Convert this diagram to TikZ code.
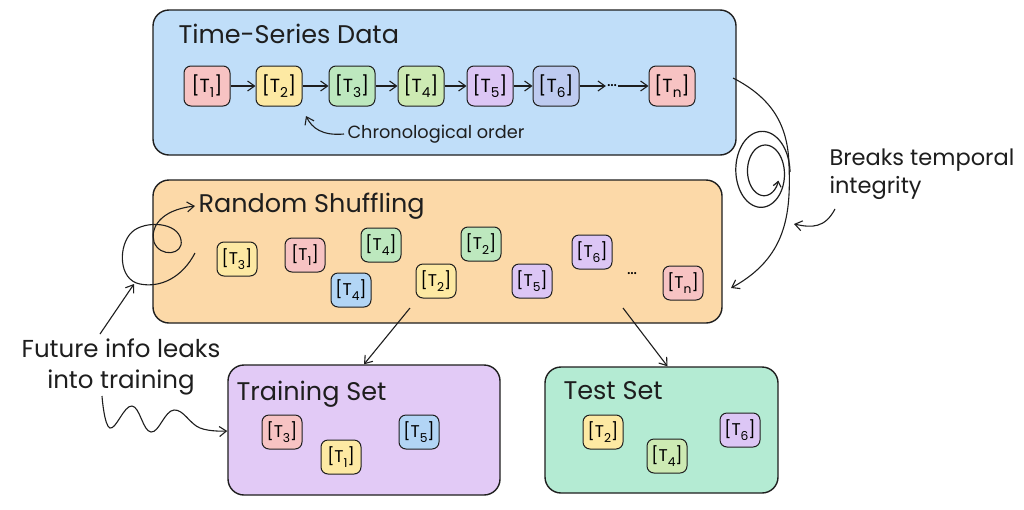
\documentclass[tikz,border=0pt]{standalone}
\usepackage{fontspec}
\usepackage{graphicx}
\setmainfont{Poppins}
\usetikzlibrary{arrows.meta}
\definecolor{tsblue}{HTML}{C0DEF9}
\definecolor{shorange}{HTML}{FCD9A8}
\definecolor{trpurple}{HTML}{E2CAF6}
\definecolor{tegreen}{HTML}{B4EBD3}
\definecolor{tred}{HTML}{F7C3C3}
\definecolor{tyellow}{HTML}{FDE9A3}
\definecolor{tgreenA}{HTML}{BDE8BE}
\definecolor{tgreenB}{HTML}{CDEAB3}
\definecolor{tpurple}{HTML}{DCC6F5}
\definecolor{tslate}{HTML}{BECBF0}
\definecolor{tblue}{HTML}{B2D5F5}
\definecolor{inkc}{HTML}{1E1E1E}
\newcommand{\tl}[1]{[T\raisebox{-0.28em}{\scalebox{0.72}{#1}}]}
\begin{document}
\begin{tikzpicture}[x=1pt,y=-1pt,
  panel/.style={draw=inkc, line width=1.4pt, rounded corners=16pt},
  ptitle/.style={anchor=west, font=\fontsize{25.5}{30}\selectfont, text=inkc},
  tile/.style={draw=inkc, line width=1pt, rounded corners=7pt, minimum width=46pt, minimum height=40pt, inner sep=0pt, font=\fontsize{19}{20}\selectfont},
  stile/.style={draw=inkc, line width=1pt, rounded corners=7pt, minimum width=40pt, minimum height=34pt, inner sep=0pt, font=\fontsize{17}{18}\selectfont},
  arr/.style={draw=inkc, line width=1.1pt, -{Straight Barb[length=7pt,width=10pt]}},
  note/.style={font=\fontsize{24.5}{31}\selectfont, text=inkc}
]
\useasboundingbox[fill=white] (0,0) rectangle (1024,509);

% panels
\node[panel, fill=tsblue, minimum width=583pt, minimum height=145pt] (ts) at (444.5,82.5) {};
\node[panel, fill=shorange, minimum width=569pt, minimum height=143pt] (sh) at (437.5,251.5) {};
\node[panel, fill=trpurple, minimum width=272pt, minimum height=130pt] (tr) at (364,430) {};
\node[panel, fill=tegreen, minimum width=233pt, minimum height=126pt] (te) at (661.5,430) {};

\node[ptitle] (tstitle) at (175,34) {Time-Series Data};
\node[ptitle] (shtitle) at (195,206) {Random Shuffling};
\node[ptitle] (trtitle) at (233,394) {Training Set};
\node[ptitle] (tetitle) at (560,391) {Test Set};

% top sequence
\node[tile, fill=tred] (a1) at (207,86) {\tl{1}};
\node[tile, fill=tyellow] (a2) at (279,86) {\tl{2}};
\node[tile, fill=tgreenA] (a3) at (352,86) {\tl{3}};
\node[tile, fill=tgreenB] (a4) at (421,86) {\tl{4}};
\node[tile, fill=tpurple] (a5) at (490,86) {\tl{5}};
\node[tile, fill=tslate] (a6) at (556,86) {\tl{6}};
\node[font=\fontsize{17}{18}\selectfont, inner sep=1pt] (adots) at (612,86) {\dots};
\node[tile, fill=tred] (an) at (672,86) {\tl{n}};
\draw[arr] (a1) -- (a2);
\draw[arr] (a2) -- (a3);
\draw[arr] (a3) -- (a4);
\draw[arr] (a4) -- (a5);
\draw[arr] (a5) -- (a6);
\draw[arr] (a6) -- (adots);
\draw[arr] (adots) -- (an);

\node[anchor=west, font=\fontsize{17.7}{20}\selectfont, text=inkc] (chrono) at (344,134) {Chronological order};
\draw[arr] (chrono.west) .. controls (322,136) and (312,128) .. (306,116);

% shuffled
\node[stile, fill=tyellow] (b1) at (237,259) {\tl{3}};
\node[stile, fill=tred] (b2) at (305,255) {\tl{1}};
\node[stile, fill=tgreenA] (b3) at (381,245) {\tl{4}};
\node[stile, fill=tblue] (b4) at (351,290) {\tl{4}};
\node[stile, fill=tyellow] (b5) at (436,281) {\tl{2}};
\node[stile, fill=tgreenA] (b6) at (481,244) {\tl{2}};
\node[stile, fill=tpurple] (b7) at (532,281) {\tl{5}};
\node[stile, fill=tpurple] (b8) at (592,252) {\tl{6}};
\node[font=\fontsize{17}{18}\selectfont] (bdots) at (632,274) {\dots};
\node[stile, fill=tred] (bn) at (683,283) {\tl{n}};

% training
\node[stile, fill=tred] (c1) at (282,432) {\tl{3}};
\node[stile, fill=tyellow] (c2) at (341,457) {\tl{1}};
\node[stile, fill=tblue] (c3) at (419,432) {\tl{5}};
% test
\node[stile, fill=tyellow] (d1) at (603,432) {\tl{2}};
\node[stile, fill=tgreenB] (d2) at (667,456) {\tl{4}};
\node[stile, fill=tpurple] (d3) at (740,430) {\tl{6}};

% split arrows
\coordinate (sa) at (410,308);
\coordinate (sb) at (623,308);
\draw[arr] (sa) -- (tr.north);
\draw[arr] (sb) -- ([xshift=6pt]te.north);

% right spiral arrow
\coordinate (rs) at (733,78);
\coordinate (re) at (731,288);
\draw[arr] (rs) .. controls (772,98) and (788,125) .. (789,165)
  .. controls (791,215) and (786,258) .. (re);
\draw[inkc, line width=1.2pt, -{Straight Barb[length=5pt,width=8pt]}] plot[domain=0:700, samples=180, smooth]
  ({760 + 6*\x/700 + 30*(1-\x/1250)*cos(\x)}, {172 + 2*\x/700 - 44*(1-\x/1250)*sin(\x)});
\node[note, anchor=west, align=left, font=\fontsize{22.5}{28}\selectfont] (brk) at (826,174) {Breaks temporal\\integrity};
\draw[arr] (835,209) .. controls (825,228) and (812,228) .. (794,224);

% left loop arrow
\draw[arr] (195,253) .. controls (182,278) and (160,288) .. (140,284)
  .. controls (118,280) and (118,245) .. (132,232)
  .. controls (145,220) and (178,222) .. (181,240)
  .. controls (184,255) and (160,258) .. (154,242)
  .. controls (150,228) and (160,210) .. (shtitle.west);
\node[note, align=center] (leak) at (121,367) {Future info leaks\\into training};
\draw[arr] (100,334) -- (134,284);
\draw[arr] plot[smooth, tension=0.7] coordinates {(102,396) (110,428) (132,406) (151,432) (174,410) (200,428) (tr.west |- 0,431)};
\end{tikzpicture}
\end{document}
